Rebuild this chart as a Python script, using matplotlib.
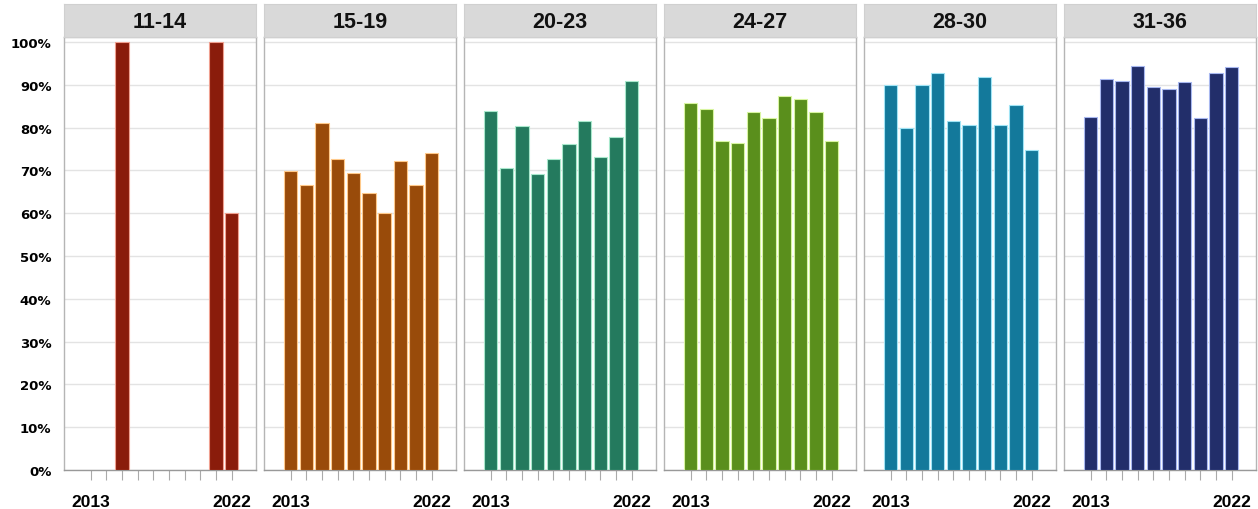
import matplotlib.pyplot as plt

# Data
years = list(range(2013, 2023))
groups = ['11-14', '15-19', '20-23', '24-27', '28-30', '31-36']

v_11_14 = [None, None, 100, None, None, None, None, None, 100, 60]
v_15_19 = [69.9, 66.7, 81.2, 72.7, 69.5, 64.7, 60.0, 72.2, 66.7, 74.2]
v_20_23 = [84.0, 70.5, 80.3, 69.1, 72.7, 76.2, 81.6, 73.1, 77.9, 90.8]
v_24_27 = [85.8, 84.4, 77.0, 76.4, 83.6, 82.2, 87.4, 86.8, 83.6, 76.8]
v_28_30 = [90.0, 80.0, 90.0, 92.8, 81.6, 80.6, 91.8, 80.6, 85.4, 74.9]
v_31_36 = [82.6, 91.5, 90.8, 94.5, 89.5, 89.1, 90.7, 82.2, 92.9, 94.3]
series = [v_11_14, v_15_19, v_20_23, v_24_27, v_28_30, v_31_36]

colors = ['#8a1c0b', '#994b0a', '#247a5e', '#5a8f1c', '#13799b', '#222e6a']
edges = ['#f0a090', '#ffc98a', '#a8e8cc', '#d8f5a0', '#a0e4f5', '#a8b8f0']

W, H = 1258, 510
fig = plt.figure(figsize=(W / 100, H / 100), dpi=100)

ax_bottom = 471
ax_top = 38
strip_top = 5

for i, (grp, vals) in enumerate(zip(groups, series)):
    left = 64 + 200 * i
    width = 192
    ax = fig.add_axes([left / W, 1 - ax_bottom / H, width / W, (ax_bottom - ax_top) / H])

    xs = [y for y, v in zip(years, vals) if v is not None]
    hs = [v for v in vals if v is not None]
    ax.bar(xs, hs, width=0.85, color=colors[i], edgecolor=edges[i], linewidth=0.8, zorder=3)

    ax.set_xlim(2011.3, 2023.55)
    ax.set_ylim(0, 101.2)
    ax.set_yticks(range(0, 101, 10))
    ax.grid(axis='y', color='#e3e3e3', linewidth=1, zorder=0)
    ax.set_xticks(years)
    ax.set_xticklabels(['2013' if y == 2013 else '2022' if y == 2022 else '' for y in years],
                       fontfamily='Liberation Sans', fontweight='bold', fontsize=12.5)
    ax.tick_params(axis='x', length=7, color='#aaaaaa', pad=10)
    if i == 0:
        ax.set_yticklabels([f'{t}%' for t in range(0, 101, 10)],
                           fontfamily='DejaVu Sans', fontweight='bold', fontsize=9.5)
        ax.tick_params(axis='y', length=0, pad=9)
    else:
        ax.tick_params(axis='y', length=0, labelleft=False)
    for s in ax.spines.values():
        s.set_color('#b5b5b5')
        s.set_linewidth(1)
    ax.spines['bottom'].set_color('#999999')

    # strip header
    sax = fig.add_axes([left / W, 1 - ax_top / H, width / W, (ax_top - strip_top) / H])
    sax.set_facecolor('#d9d9d9')
    sax.set_xticks([])
    sax.set_yticks([])
    for s in sax.spines.values():
        s.set_color('#d0d0d0')
    sax.text(0.5, 0.47, grp, ha='center', va='center', fontfamily='Liberation Sans',
             fontweight='bold', fontsize=15.5, color='#111111', transform=sax.transAxes)

fig.savefig('out.png', dpi=100)
